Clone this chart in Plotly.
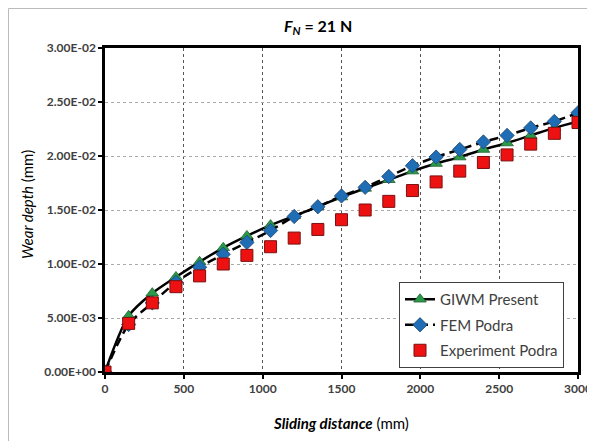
import plotly.graph_objects as go

distance = [0, 150, 300, 450, 600, 750, 900, 1050, 1200, 1350, 1500,
            1650, 1800, 1950, 2100, 2250, 2400, 2550, 2700, 2850, 3000]
giwm_present = [0, 0.0052, 0.0073, 0.0088, 0.0102, 0.0115, 0.0126, 0.0136, 0.01445, 0.0153, 0.0162,
                0.0170, 0.0178, 0.0186, 0.0193, 0.0199, 0.0206, 0.0212, 0.0219, 0.0226, 0.0232]
fem_podra = [0, 0.0044, 0.0064, 0.0083, 0.0097, 0.0109, 0.0120, 0.0131, 0.0144, 0.0153, 0.0163,
             0.0171, 0.0181, 0.0191, 0.0199, 0.0206, 0.0213, 0.0219, 0.0226, 0.0232, 0.0240]
experiment_podra = [0, 0.0045, 0.0064, 0.0079, 0.0089, 0.0100, 0.0108, 0.0116, 0.0124, 0.0132, 0.0141,
                    0.0150, 0.0158, 0.0168, 0.0176, 0.0186, 0.0194, 0.0201, 0.0211, 0.0221, 0.0231]

y_tick_vals = [0, 0.005, 0.01, 0.015, 0.02, 0.025, 0.03]
y_tick_text = ["0.00E+00", "5.00E-03", "1.00E-02", "1.50E-02", "2.00E-02", "2.50E-02", "3.00E-02"]
x_tick_vals = [0, 500, 1000, 1500, 2000, 2500, 3000]

FONT = "Lato"
TXT = "#404040"

# the page body adds an 8px offset; work in reference pixels and shift
OFF = 8
W, H = 595 - OFF, 441 - OFF
L, R, T, B = 105 - OFF, 578 - OFF, 48 - OFF, 372 - OFF
PW, PH = R - L, B - T


def px(xr):
    return (xr - OFF - L) / PW


def py(yr):
    return (B - (yr - OFF)) / PH


fig = go.Figure()
fig.add_trace(go.Scatter(
    x=distance, y=giwm_present, name="GIWM Present", mode="lines+markers", legendgroup="a",
    line=dict(color="black", width=2.5, shape="spline", smoothing=0.8),
    marker=dict(symbol="triangle-up", size=11, color="#2A9A4A",
                line=dict(color="#1F5F30", width=0.8)),
))
fig.add_trace(go.Scatter(
    x=distance, y=fem_podra, name="FEM Podra", mode="lines+markers", legendgroup="b",
    line=dict(color="black", width=2.5, dash="9px,5px", shape="spline", smoothing=0.8),
    marker=dict(symbol="diamond", size=11, color="#1F6DB5",
                line=dict(color="#1A4570", width=0.8)),
))
fig.add_trace(go.Scatter(
    x=distance, y=experiment_podra, name="Experiment Podra", mode="markers", legendgroup="c",
    marker=dict(symbol="square", size=12, color="#EE1111",
                line=dict(color="#7A1010", width=1)),
))

fig.update_layout(
    width=W, height=H,
    margin=dict(l=L, r=W - R, t=T, b=H - B, autoexpand=False),
    paper_bgcolor="white", plot_bgcolor="white",
    font=dict(family=FONT, color=TXT),
    showlegend=True,
    legend=dict(
        x=px(399), y=py(282), xanchor="left", yanchor="top",
        bgcolor="white", bordercolor="#404040", borderwidth=1,
        font=dict(family=FONT, size=15, color=TXT),
        tracegroupgap=3, itemwidth=30,
    ),
    xaxis=dict(
        range=[0, 3000], tickvals=x_tick_vals, automargin=False,
        tickfont=dict(family=FONT, size=12, color=TXT, weight="bold"),
        showline=True, linecolor="black", linewidth=2.5, mirror=True,
        ticks="outside", ticklen=4, tickcolor="black", tickwidth=1.5,
        showgrid=True, gridcolor="#555555", griddash="dot", gridwidth=1,
        zeroline=False,
    ),
    yaxis=dict(
        range=[0, 0.03], tickvals=y_tick_vals, ticktext=y_tick_text, automargin=False,
        tickfont=dict(family=FONT, size=12, color=TXT, weight="bold"),
        showline=True, linecolor="black", linewidth=2.5, mirror=True,
        ticks="outside", ticklen=4, tickcolor="black", tickwidth=1.5,
        showgrid=True, gridcolor="#AAAAAA", griddash="dot", gridwidth=1,
        zeroline=False,
    ),
    annotations=[
        dict(
            text="<b><i>F</i><sub><i>N</i></sub> = 21 N</b>",
            xref="paper", yref="paper", x=px(318), y=py(27),
            xanchor="center", yanchor="middle", showarrow=False,
            font=dict(family=FONT, size=16, color="black"),
        ),
        dict(
            text="<b><i>Sliding distance</i></b> (mm)",
            xref="paper", yref="paper", x=px(341), y=py(423),
            xanchor="center", yanchor="middle", showarrow=False,
            font=dict(family=FONT, size=15, color="black"),
        ),
        dict(
            text="<i>Wear depth</i> (mm)",
            xref="paper", yref="paper", x=px(27), y=py(205), textangle=-90,
            xanchor="center", yanchor="middle", showarrow=False,
            font=dict(family=FONT, size=15, color="black"),
        ),
    ],
    shapes=[dict(
        type="rect", xref="paper", yref="paper",
        x0=px(8.5), x1=px(640), y0=py(480), y1=py(8.5),
        line=dict(color="#BBBBBB", width=1), fillcolor="rgba(0,0,0,0)", layer="below",
    )],
)

fig.write_html("out.html")
